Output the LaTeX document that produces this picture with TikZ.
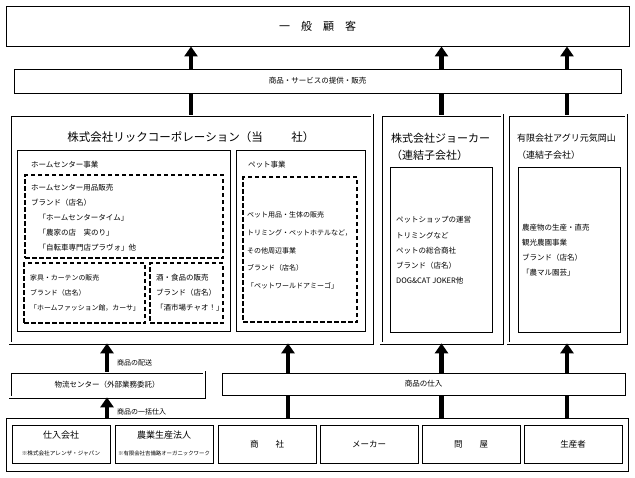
\documentclass[tikz,border=0pt]{standalone}
\usepackage{fontspec}
\newfontfamily\jp{Noto Sans CJK JP}
\usetikzlibrary{arrows.meta}

\begin{document}
\begin{tikzpicture}[
        x=1pt, y=-1pt,
        plainBox/.style={rectangle, draw, line width=0.9pt, inner sep=0pt, fill=white},
        doubleBox/.style={rectangle, draw, double, double distance=1.6pt, line width=0.7pt, inner sep=0pt},
        dashBox/.style={rectangle, draw, dash pattern=on 4.5pt off 2.5pt, line width=1.3pt, inner sep=0pt},
        upArrow/.style={line width=4.5pt, -{Triangle[length=10pt, width=13pt]}},
        shaftLine/.style={line width=4.5pt},
        textBlock/.style={anchor=base west, align=left, inner sep=0pt, font=\jp\fontsize{7.5}{15}\selectfont},
        smallText/.style={inner sep=0pt, font=\jp\fontsize{7.5}{9}\selectfont}
    ]
        \useasboundingbox (0,0) rectangle (635,477);

        % Customers and sales
        \node[plainBox, minimum width=623pt, minimum height=40pt] (cust) at (317.5,26) {};
        \node[inner sep=0pt, font=\jp\fontsize{11}{13}\selectfont] (custText) at (cust) {一　般　顧　客};
        \node[plainBox, minimum width=607pt, minimum height=24pt] (svc) at (317.5,81) {};
        \node[smallText] (svcText) at (svc) {商品・サービスの提供・販売};

        % Group companies
        \node[doubleBox, minimum width=362pt, minimum height=228pt] (lick) at (191,229) {};
        \node[doubleBox, minimum width=121pt, minimum height=228pt] (joker) at (441.5,229) {};
        \node[doubleBox, minimum width=118pt, minimum height=228pt] (agri) at (567,229) {};

        % Rick Corporation
        \node[inner sep=0pt, font=\jp\fontsize{11.5}{13}\selectfont] (lickTitle) at (191,137)
            {株式会社リックコーポレーション（当\hspace{2.5em}社）};
        \node[plainBox, minimum width=213pt, minimum height=181pt] (hc) at (123.5,240.5) {};
        \node[plainBox, minimum width=129pt, minimum height=181pt] (pet) at (300.5,240.5) {};
        \node[smallText, anchor=west] (hcText) at (31,165) {ホームセンター事業};
        \node[smallText, anchor=west] (petText) at (248,165) {ペット事業};

        \node[dashBox, minimum width=198pt, minimum height=83pt] (hcShop) at (124,216.5) {};
        \node[dashBox, minimum width=121pt, minimum height=60pt] (furn) at (84.5,293) {};
        \node[dashBox, minimum width=73pt, minimum height=60pt] (food) at (186.5,293) {};
        \node[dashBox, minimum width=114pt, minimum height=145pt] (petShop) at (300,249.5) {};

        % text blocks sit on the baseline of their last line
        \node[textBlock] (hcShopText) at (31,250.9)
            {ホームセンター用品販売\\ブランド（店名）\\　「ホームセンタータイム」\\　「農家の店　実のり」\\　「自転車専門店プラヴォ」他};
        \node[textBlock, font=\jp\fontsize{6.9}{15}\selectfont] (furnText) at (30,310.6)
            {家具・カーテンの販売\\ブランド（店名）\\「ホームファッション館，カーサ」};
        \node[textBlock] (foodText) at (156,310.9)
            {酒・食品の販売\\ブランド（店名）\\「酒市場チャオ！」};
        \node[textBlock, font=\jp\fontsize{7}{17.75}\selectfont] (petShopText) at (247,288.7)
            {ペット用品・生体の販売\\トリミング・ペットホテルなど，\\その他周辺事業\\ブランド（店名）\\「ペットワールドアミーゴ」};

        % Joker
        \node[textBlock, font=\jp\fontsize{11}{17}\selectfont] (jokerTitle) at (391,159.2)
            {株式会社ジョーカー\\（連結子会社）};
        \node[plainBox, minimum width=102pt, minimum height=165pt] (jokerIn) at (441,249.5) {};
        \node[textBlock, font=\jp\fontsize{7.5}{15.25}\selectfont] (jokerText) at (396,283.9)
            {ペットショップの運営\\トリミングなど\\ペットの総合商社\\ブランド（店名）\\DOG\&CAT JOKER他};

        % Agri Genki Okayama
        \node[textBlock, font=\jp\fontsize{9}{17}\selectfont] (agriTitle) at (517,158.4)
            {有限会社アグリ元気岡山\\（連結子会社）};
        \node[plainBox, minimum width=102pt, minimum height=165pt] (agriIn) at (569,249.5) {};
        \node[textBlock] (agriText) at (522,275.9)
            {農産物の生産・直売\\観光農園事業\\ブランド（店名）\\「農マル園芸」};

        % Logistics and purchasing
        \node[doubleBox, minimum width=194pt, minimum height=25pt] (logi) at (107,384.5) {};
        \node[smallText] (logiText) at (logi) {物流センター（外部業務委託）};
        \node[plainBox, minimum width=403pt, minimum height=22pt] (buy) at (423.5,384) {};
        \node[smallText] (buyText) at (buy) {商品の仕入};
        \node[smallText, anchor=west, font=\jp\fontsize{7}{9}\selectfont] (shipLabel) at (117,363) {商品の配送};
        \node[smallText, anchor=west, font=\jp\fontsize{7}{9}\selectfont] (bulkLabel) at (117,412) {商品の一括仕入};

        % Suppliers
        \node[plainBox, line width=0.7pt, minimum width=622pt, minimum height=53pt] (src) at (317,444.5) {};
        \node[plainBox, minimum width=98pt, minimum height=38pt] (s1) at (61,444) {};
        \node[plainBox, minimum width=98pt, minimum height=38pt] (s2) at (164,444) {};
        \node[plainBox, minimum width=98pt, minimum height=38pt] (s3) at (267,444) {};
        \node[plainBox, minimum width=98pt, minimum height=38pt] (s4) at (369,444) {};
        \node[plainBox, minimum width=98pt, minimum height=38pt] (s5) at (471,444) {};
        \node[plainBox, minimum width=98pt, minimum height=38pt] (s6) at (573,444) {};
        \node[smallText, font=\jp\fontsize{9}{11}\selectfont] (s1Name) at (61,435) {仕入会社};
        \node[smallText, font=\jp\fontsize{5.6}{7}\selectfont] (s1Sub) at (61,453) {※株式会社アレンザ・ジャパン};
        \node[smallText, font=\jp\fontsize{9}{11}\selectfont] (s2Name) at (164,435) {農業生産法人};
        \node[smallText, font=\jp\fontsize{5.4}{7}\selectfont] (s2Sub) at (164,453) {※有限会社吉備路オーガニックワーク};
        \node[smallText, font=\jp\fontsize{8.5}{11}\selectfont] (s3Text) at (s3) {商　　社};
        \node[smallText, font=\jp\fontsize{8.5}{11}\selectfont] (s4Text) at (s4) {メーカー};
        \node[smallText, font=\jp\fontsize{8.5}{11}\selectfont] (s5Text) at (s5) {問　　屋};
        \node[smallText, font=\jp\fontsize{8.5}{11}\selectfont] (s6Text) at (s6) {生産者};

        % Arrows
        \coordinate (lickIn) at (288,0);
        \draw[shaftLine] (lick.north) -- (lick.north |- svc.south);
        \draw[upArrow] (lick.north |- svc.north) -- (lick.north |- cust.south);
        \draw[shaftLine] (joker.north) -- (joker.north |- svc.south);
        \draw[upArrow] (joker.north |- svc.north) -- (joker.north |- cust.south);
        \draw[shaftLine] (agri.north) -- (agri.north |- svc.south);
        \draw[upArrow] (agri.north |- svc.north) -- (agri.north |- cust.south);

        \draw[upArrow] (logi.north) -- (logi.north |- lick.south);
        \draw[upArrow] (logi.south |- src.north) -- (logi.south);
        \draw[shaftLine] (src.north -| lickIn) -- (buy.south -| lickIn);
        \draw[upArrow] (buy.north -| lickIn) -- (lick.south -| lickIn);
        \draw[shaftLine] (src.north -| joker) -- (buy.south -| joker);
        \draw[upArrow] (buy.north -| joker) -- (joker.south);
        \draw[shaftLine] (src.north -| agri) -- (buy.south -| agri);
        \draw[upArrow] (buy.north -| agri) -- (agri.south);
    \end{tikzpicture}
\end{document}
